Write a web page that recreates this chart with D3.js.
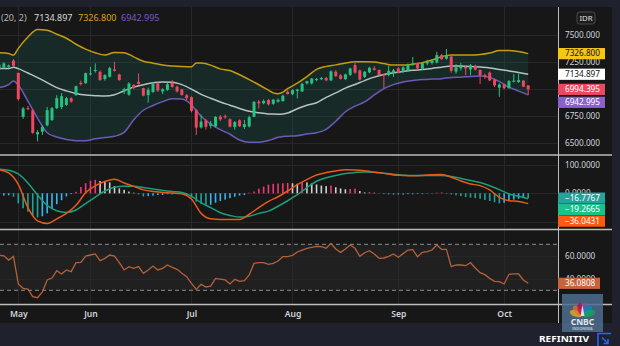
<!DOCTYPE html>
<html><head><meta charset="utf-8">
<script src="https://cdn.jsdelivr.net/npm/d3@7"></script>
<style>
html,body{margin:0;padding:0;background:#171717;overflow:hidden;}
svg{display:block;}
text{font-family:"Noto Sans","DejaVu Sans",sans-serif;}
</style></head><body>
<svg id="chart" width="620" height="346"></svg>
<script>
// ---------- DATA ----------
const dates = [
"2022-04-25","2022-04-26","2022-04-27","2022-04-28",
"2022-05-09","2022-05-10","2022-05-11","2022-05-12","2022-05-13","2022-05-17","2022-05-18","2022-05-19","2022-05-20","2022-05-23","2022-05-24","2022-05-25","2022-05-27","2022-05-30","2022-05-31",
"2022-06-02","2022-06-03","2022-06-06","2022-06-07","2022-06-08","2022-06-09","2022-06-10","2022-06-13","2022-06-14","2022-06-15","2022-06-16","2022-06-17","2022-06-20","2022-06-21","2022-06-22","2022-06-23","2022-06-24","2022-06-27","2022-06-28","2022-06-29","2022-06-30",
"2022-07-01","2022-07-04","2022-07-05","2022-07-06","2022-07-07","2022-07-08","2022-07-11","2022-07-12","2022-07-13","2022-07-14","2022-07-15","2022-07-18","2022-07-19","2022-07-20","2022-07-21","2022-07-22","2022-07-25","2022-07-26","2022-07-27","2022-07-28","2022-07-29",
"2022-08-01","2022-08-02","2022-08-03","2022-08-04","2022-08-05","2022-08-08","2022-08-09","2022-08-10","2022-08-11","2022-08-12","2022-08-15","2022-08-16","2022-08-18","2022-08-19","2022-08-22","2022-08-23","2022-08-24","2022-08-25","2022-08-26","2022-08-29","2022-08-30","2022-08-31",
"2022-09-01","2022-09-02","2022-09-05","2022-09-06","2022-09-07","2022-09-08","2022-09-09","2022-09-12","2022-09-13","2022-09-14","2022-09-15","2022-09-16","2022-09-19","2022-09-20","2022-09-21","2022-09-22","2022-09-23","2022-09-26","2022-09-27","2022-09-28","2022-09-29","2022-09-30",
"2022-10-03","2022-10-04","2022-10-05","2022-10-06","2022-10-07","2022-10-10"];

const open = [7180,7199,7204,7262, 7148,6738,6819,6800,6575,6600,6660,6710,6820,6830,6850,6912,6940,7055,7052,
7133,7165,7158,7090,7111,7180,7133,6975,6945,7035,7065,7006,6940,6970,7050,6975,6990,7055,7018,6993,6940,
6921,6800,6640,6705,6655,6650,6740,6745,6716,6645,6707,6645,6650,6740,6880,6865,6895,6860,6880,6885,6972,
6950,6980,6975,7050,7050,7082,7088,7100,7078,7158,7125,7090,7130,7220,7170,7110,7152,7190,7175,7133,7127,7150,
7190,7158,7170,7225,7240,7185,7235,7240,7245,7313,7280,7300,7160,7190,7205,7180,7215,7175,7125,7150,7085,7010,
7040,7005,7065,7062,7075,7030];
const high = [7235,7245,7225,7275, 7150,6830,6840,6810,6615,6660,6830,6830,6940,6960,6925,6920,7030,7075,7150,
7204,7236,7170,7135,7205,7251,7140,7010,7060,7045,7143,7010,7010,7060,7060,7005,7055,7080,7030,7000,6950,
6930,6810,6760,6720,6700,6745,6755,6760,6725,6700,6715,6710,6750,6885,6895,6900,6905,6905,6910,6945,6985,
6995,7000,7055,7075,7100,7100,7110,7110,7170,7175,7135,7140,7195,7240,7180,7165,7205,7210,7180,7140,7215,7185,
7200,7210,7235,7295,7245,7250,7270,7275,7345,7325,7370,7310,7230,7240,7210,7230,7225,7180,7140,7160,7095,7050,
7045,7080,7135,7140,7080,7035];
const low = [7170,7190,7195,7205, 6890,6720,6800,6580,6510,6570,6650,6700,6810,6810,6840,6870,6935,7030,7045,
7125,7150,7075,7075,7105,7160,7075,6950,6935,6995,7040,6930,6870,6960,6970,6950,6980,7010,6965,6935,6895,
6780,6570,6630,6620,6630,6640,6700,6720,6640,6620,6645,6625,6640,6735,6815,6855,6845,6850,6870,6880,6945,
6940,6910,6970,7040,7040,7070,7080,7070,7070,7110,7085,7080,7120,7140,7075,7100,7145,7170,7120,7005,7115,7110,
7145,7150,7160,7215,7180,7175,7220,7225,7235,7270,7270,7150,7140,7170,7125,7125,7170,7045,7090,7070,7015,6925,
6995,7000,7060,7055,7015,6940];
const close = [7225,7236,7217,7214, 6903,6816,6812,6590,6597,6645,6800,6819,6912,6931,6912,6880,7024,7043,7145,
7143,7174,7080,7127,7192,7167,7080,6995,7049,7007,7045,6936,6990,7044,6984,6995,7042,7016,6975,6943,6912,
6794,6639,6695,6646,6675,6738,6715,6734,6648,6690,6651,6670,6735,6878,6865,6886,6855,6898,6897,6935,6951,
6988,6992,7046,7070,7095,7090,7100,7078,7162,7118,7092,7133,7188,7150,7085,7158,7195,7175,7127,7120,7167,7172,
7150,7198,7228,7235,7190,7240,7248,7260,7313,7275,7310,7168,7200,7205,7188,7218,7178,7127,7112,7077,7031,7040,
7005,7072,7075,7080,7020,6994.395];

// Bollinger Bands (20, 2) read at these bar numbers
const bandIdx = [0,2,3,4,6,8,10,12,14,16,18,20,22,24,26,28,30,32,34,36,38,40,41,42,44,46,48,50,52,54,56,57,58,59,60,
62,64,66,68,70,72,74,76,78,80,82,84,86,88,90,92,94,96,98,100,102,104,106,108,110];
const bbUpper = [7335,7327,7313,7376,7481,7551,7545,7507,7470,7414,7369,7335,7313,7337,7336,7296,7256,7238,7220,7211,7206,7204,7240,7239,7220,7185,7169,7130,7085,7037,6987,6962,6954,6968,7001,
7052,7113,7181,7208,7222,7240,7251,7251,7249,7234,7220,7220,7229,7243,7267,7299,7313,7313,7313,7318,7332,7355,7356,7346,7326.8];
const bbMiddle = [7188,7188,7200,7187,7146,7104,7057,7010,6980,6956,6941,6936,6932,6944,6982,7015,7038,7055,7062,7060,7038,6996,6972,6948,6911,6877,6847,6817,6791,6777,6766,6764,6763,6766,6774,
6814,6847,6870,6920,6961,7006,7040,7076,7108,7132,7148,7161,7171,7178,7189,7201,7211,7211,7208,7202,7194,7178,7166,7152,7134.897];
const bbLower = [7010,7038,7071,7034,6884,6726,6591,6551,6528,6517,6516,6535,6546,6558,6594,6711,6800,6844,6880,6908,6905,6850,6796,6744,6670,6619,6577,6523,6502,6502,6518,6533,6549,6555,6558,
6563,6579,6591,6623,6698,6786,6838,6877,6942,7001,7038,7062,7076,7085,7090,7094,7104,7108,7115,7118,7105,7066,7015,6978,6942.995];

// MACD lines read at every second bar
const macdIdx = [0,2,4,6,8,10,12,14,16,18,20,22,24,26,28,30,32,34,36,38,40,42,44,46,48,50,52,54,56,58,60,62,64,66,68,70,72,74,76,78,80,82,84,86,88,90,92,94,96,98,100,102,104,106,108,110];
const macdLine = [82,71,31,-50,-96,-105,-89,-70,-42,2,26,41,49,36,24,12,6,3,1,-2,-20,-70,-89,-91,-91,-91,-73,-50,-28,-12,8,30,47.8,63.5,72.3,78,82,81.6,78.7,73.5,69.4,64,62.4,61.2,62.4,64.7,65.9,56,43,32.6,26.8,11.7,-14,-25.7,-28.6,-36.0431];
const signalLine = [84,80.5,67.6,36,-6,-42,-61,-66.5,-58,-36,-13,8,21,25,25,20,15,10,6,3,-10.5,-32.6,-50,-67.6,-77,-83,-80,-70,-62,-45,-26,-5,20,42,54,61.8,68.8,72.3,74.6,73.5,70,66.5,63.2,61.8,61.8,61.8,61.8,58.9,51.9,44.3,37.3,26.2,12.8,-2.3,-10.5,-19.2665];
const histogram = [-10,-8,-7,-12,-35,-52,-64,-78,-84,-80,-70,-54,-38,-24,-11,-3,5,22,35,44,47,43,41,38,25,17,12,6,2,-4,
-11,-10,-8,-6,-6,-3,-4,-2,-1,-7,-15,-29,-37,-41,-40,-33,-27,-22,-17,-12,-8,-6,2,6,16,23,30,33,34,35,
36,35,33,40,38,35,31,27,25,27,21,17,14,15,16,8,3,4,2,-1,-3,-4,-5,-4,-5,-3,-4,-2,-3,-1,
-1,2,3,1,-4,-7,-10,-13,-15,-17,-19,-23,-27,-31,-35,-33,-25,-22,-19,-15,-16.7767];

const rsi = [60.5,60,56.3,59.5,35.5,31.7,31.1,24.5,23.6,28.5,39,40.7,47.1,44.2,47.7,46.2,54,54.3,59.8,60.7,
61.6,55.8,57.8,60.7,59.8,54,47.7,50.6,49.1,50.6,44.8,47.7,51.1,47.7,49.1,52,50,48.2,44.8,41.9,
36.1,30.8,35.2,32.9,33.7,40.4,39.8,39,35.5,39.5,37.8,38.4,43.3,53.4,54,54,52.6,53.4,55.5,59.2,
59.2,60.4,63.3,65,66.5,67.4,68.2,67.9,66.5,70.8,65.9,63,65.9,69.4,66.5,59.5,62.7,64.5,61.6,57.8,
58.1,59.5,61.6,58.7,61.9,65,65.3,59.2,63,63.6,65,69.4,65.6,65.6,50.6,52,52,51.4,54,49.4,
45.3,43.6,40.4,37.8,37.5,35.5,43.9,44.2,44.2,39,36.0808];

const monthTicks = ["2022-05-09","2022-06-02","2022-07-01","2022-08-01","2022-09-01","2022-10-03"];
const monthLabels = ["May","Jun","Jul","Aug","Sep","Oct"];
const priceTicks = [7500,7250,7000,6750,6500];
const macdTicks = [100,0,-100];
const rsiTicks = [60,40];
const rsiBands = [70,30];
const bbLegend = "(20, 2)";
const currency = "IDR";

// ---------- DRAW ----------
const W = 620, H = 346, PR = 558;
const svg = d3.select("#chart");
const x = d3.scalePoint().domain(dates).range([-0.94, 528.2]);
const yP = d3.scaleLinear().domain([6500, 7500]).range([142.5, 35]);
const yM = d3.scaleLinear().domain([-100, 100]).range([222, 164.6]);
const yR = d3.scaleLinear().domain([30, 70]).range([290.3, 244.3]);
const panels = {main:[7,155], macd:[155,229.5], rsi:[229.5,304.5]};
const xi = i => x(dates[i]);

svg.append("rect").attr("width",W).attr("height",H).attr("fill","#171717");
svg.append("rect").attr("x",0).attr("y",0).attr("width",W).attr("height",7).attr("fill","#1f222c");
svg.append("rect").attr("x",0).attr("y",323).attr("width",W).attr("height",23).attr("fill","#1f222c");
svg.append("rect").attr("x",612).attr("y",0).attr("width",8).attr("height",H).attr("fill","#1f222c");

const defs = svg.append("defs");
Object.entries(panels).forEach(([k,[a,b]]) => {
  defs.append("clipPath").attr("id","clip-"+k).append("rect").attr("x",0).attr("y",a).attr("width",PR).attr("height",b-a);
});

// RSI band background
svg.append("rect").attr("x",0).attr("width",PR).attr("y",yR(rsiBands[0])).attr("height",yR(rsiBands[1])-yR(rsiBands[0])).attr("fill","#202020");

// grid
const grid = svg.append("g").attr("stroke","#272727").attr("stroke-width",1);
grid.selectAll(".v").data(monthTicks).join("line").attr("x1",d=>Math.round(x(d))+0.5).attr("x2",d=>Math.round(x(d))+0.5).attr("y1",7).attr("y2",304.5);
grid.selectAll(".hp").data(priceTicks).join("line").attr("x1",0).attr("x2",PR).attr("y1",d=>Math.round(yP(d))+0.5).attr("y2",d=>Math.round(yP(d))+0.5);
grid.selectAll(".hm").data(macdTicks).join("line").attr("x1",0).attr("x2",PR).attr("y1",d=>Math.round(yM(d))+0.5).attr("y2",d=>Math.round(yM(d))+0.5);
grid.selectAll(".hr").data(rsiTicks).join("line").attr("x1",0).attr("x2",PR).attr("y1",d=>Math.round(yR(d))+0.5).attr("y2",d=>Math.round(yR(d))+0.5);

// Bollinger
const mainG = svg.append("g").attr("clip-path","url(#clip-main)");
const bands = bandIdx.map((b,k)=>({i:b,u:bbUpper[k],m:bbMiddle[k],l:bbLower[k]}));
mainG.append("path").datum(bands).attr("fill","rgba(24,120,110,0.2)")
  .attr("d", d3.area().x(d=>xi(d.i)).y0(d=>yP(d.l)).y1(d=>yP(d.u)).curve(d3.curveMonotoneX));
[["u","#c49d0e"],["m","#b7c3c1"],["l","#6c5bb6"]].forEach(([k,c])=>{
  mainG.append("path").datum(bands).attr("fill","none").attr("stroke",c).attr("stroke-width",1.5)
    .attr("d", d3.line().x(d=>xi(d.i)).y(d=>yP(d[k])).curve(d3.curveMonotoneX));
});

// candles
const UP="#26c281", DN="#ee4760";
const candles = dates.map((d,i)=>({d,o:open[i],h:high[i],l:low[i],c:close[i]}));
const cg = mainG.selectAll(".c").data(candles).join("g");
cg.append("line").attr("x1",d=>x(d.d)).attr("x2",d=>x(d.d)).attr("y1",d=>yP(d.h)).attr("y2",d=>yP(d.l))
  .attr("stroke",d=>d.c>=d.o?UP:DN).attr("stroke-width",1);
cg.append("rect").attr("x",d=>x(d.d)-1.5).attr("width",3)
  .attr("y",d=>yP(Math.max(d.o,d.c))).attr("height",d=>Math.max(1,Math.abs(yP(d.o)-yP(d.c))))
  .attr("fill",d=>d.c>=d.o?UP:DN);

// MACD
const macdG = svg.append("g").attr("clip-path","url(#clip-macd)");
const histColor = (h,p) => h>=0 ? (h>p ? "#ec3a74" : "#cfcfcf") : (h<p ? "#20a398" : "#35b5f2");
macdG.selectAll(".h").data(histogram).join("rect")
  .attr("x",(h,i)=>xi(i)-0.8).attr("width",1.6)
  .attr("y",h=>Math.min(yM(0),yM(h))).attr("height",h=>Math.abs(yM(h)-yM(0)))
  .attr("fill",(h,i)=>histColor(h, i>0?histogram[i-1]:h+1));
const mdat = macdIdx.map((b,k)=>({i:b,m:macdLine[k],s:signalLine[k]}));
macdG.append("path").datum(mdat).attr("fill","none").attr("stroke","#1a9e7c").attr("stroke-width",1.5)
  .attr("d", d3.line().x(d=>xi(d.i)).y(d=>yM(d.s)).curve(d3.curveMonotoneX));
macdG.append("path").datum(mdat).attr("fill","none").attr("stroke","#e85a16").attr("stroke-width",1.5)
  .attr("d", d3.line().x(d=>xi(d.i)).y(d=>yM(d.m)).curve(d3.curveMonotoneX));

// RSI
const rsiG = svg.append("g").attr("clip-path","url(#clip-rsi)");
rsiG.selectAll(".dl").data(rsiBands).join("line").attr("x1",0).attr("x2",PR)
  .attr("y1",d=>yR(d)).attr("y2",d=>yR(d)).attr("stroke","#8c8c8c").attr("stroke-dasharray","4,3").attr("stroke-width",1);
rsiG.append("path").datum(rsi).attr("fill","none").attr("stroke","#b5603a").attr("stroke-width",1.3)
  .attr("d", d3.line().x((v,i)=>xi(i)).y(v=>yR(v)));

// separators
const sep = svg.append("g").attr("stroke","#bdbdbd");
[155,229.5,304.5].forEach(y=>sep.append("line").attr("x1",0).attr("x2",612).attr("y1",y).attr("y2",y).attr("stroke-width",1.5));
sep.append("line").attr("x1",PR+0.5).attr("x2",PR+0.5).attr("y1",7).attr("y2",323).attr("stroke-width",1);

// value labels on axis (computed first so fully covered tick labels can be skipped)
const fmt3 = d3.format(".3f"), fmt4 = d3.format(".4f");
const last = dates.length-1;
function resolve(items, gap){
  items.sort((a,b)=>a.y-b.y);
  for(let k=1;k<items.length;k++){ if(items[k].y < items[k-1].y+gap) items[k].y = items[k-1].y+gap; }
  return items;
}
const priceBoxes = resolve([
  {y:yP(bbUpper[bbUpper.length-1]), t:fmt3(bbUpper[bbUpper.length-1]), bg:"#f5c518", fg:"#131313", w:47},
  {y:yP(bbMiddle[bbMiddle.length-1]), t:fmt3(bbMiddle[bbMiddle.length-1]), bg:"#ffffff", fg:"#131313", w:47},
  {y:yP(close[last]), t:fmt3(close[last]), bg:"#ea4a60", fg:"#ffffff", w:47},
  {y:yP(bbLower[bbLower.length-1]), t:fmt3(bbLower[bbLower.length-1]), bg:"#8a5fd0", fg:"#ffffff", w:47}
], 13);
const macdBoxes = resolve([
  {y:yM(histogram[last]), t:fmt4(histogram[last]), bg:"#23a39a", fg:"#ffffff", w:47},
  {y:yM(signalLine[signalLine.length-1]), t:fmt4(signalLine[signalLine.length-1]), bg:"#1cc08b", fg:"#ffffff", w:47},
  {y:yM(macdLine[macdLine.length-1]), t:fmt4(macdLine[macdLine.length-1]), bg:"#ff5a12", fg:"#ffffff", w:47}
], 11.5);
const rsiBoxes = resolve([{y:yR(rsi[last]), t:fmt4(rsi[last]), bg:"#c6643c", fg:"#ffffff", w:42}], 11);
const allBoxes = priceBoxes.concat(macdBoxes, rsiBoxes);
const covered = yy => allBoxes.some(b => Math.abs(b.y-yy) < 3);

// axes
function styleAxis(g){
  g.select(".domain").remove();
  g.selectAll("text").attr("fill","#d1d4dc").attr("font-size","8.2px").attr("font-family","'Noto Sans',sans-serif");
}
svg.append("g").attr("transform",`translate(${PR},0)`)
  .call(d3.axisRight(yP).tickValues(priceTicks.filter(v=>!covered(yP(v)))).tickFormat(d3.format(".3f")).tickSize(0).tickPadding(7)).call(styleAxis);
svg.append("g").attr("transform",`translate(${PR},0)`)
  .call(d3.axisRight(yM).tickValues(macdTicks.filter(v=>!covered(yM(v)))).tickFormat(d3.format(".4f")).tickSize(0).tickPadding(7)).call(styleAxis);
svg.append("g").attr("transform",`translate(${PR},0)`)
  .call(d3.axisRight(yR).tickValues(rsiTicks.filter(v=>!covered(yR(v)))).tickFormat(d3.format(".4f")).tickSize(0).tickPadding(7)).call(styleAxis);
svg.append("g").attr("transform","translate(0,304.5)")
  .call(d3.axisBottom(x).tickValues(monthTicks).tickFormat((d,i)=>monthLabels[i]).tickSize(0).tickPadding(6))
  .call(g=>{g.select(".domain").remove(); g.selectAll("text").attr("fill","#d1d4dc").attr("font-size","8.6px").attr("font-weight","600").attr("font-family","'Noto Sans',sans-serif");});

allBoxes.forEach(it=>{
  svg.append("rect").attr("x",PR).attr("y",it.y-5.6).attr("width",it.w).attr("height",11.2).attr("fill",it.bg);
  svg.append("text").attr("x",PR+7).attr("y",it.y).attr("dy","0.35em").attr("fill",it.fg)
    .attr("font-size","8.2px").text(it.t);
});

// currency badge
svg.append("rect").attr("x",577).attr("y",12).attr("width",18).attr("height",12).attr("rx",2.5).attr("fill","#1c1c1c").attr("stroke","#4a4a4a");
svg.append("text").attr("x",586).attr("y",18).attr("dy","0.35em").attr("text-anchor","middle").attr("fill","#e0e0e0").attr("font-size","7.8px").text(currency);

// legend
const leg = [
  {t:bbLegend, x:1, c:"#b2b5be"},
  {t:fmt3(bbMiddle[bbMiddle.length-1]), x:34, c:"#d9d9d9"},
  {t:fmt3(bbUpper[bbUpper.length-1]), x:78, c:"#d4a514"},
  {t:fmt3(bbLower[bbLower.length-1]), x:121, c:"#7d58c4"}
];
leg.forEach(l=>svg.append("text").attr("x",l.x).attr("y",18.3).attr("dy","0.35em").attr("fill",l.c).attr("font-size","9px").text(l.t));

// CNBC logo
const logo = svg.append("g");
logo.append("rect").attr("x",562).attr("y",294).attr("width",41).attr("height",38).attr("fill","#4e6d8e").attr("opacity",0.85);
const feathers = ["#fcb711","#f37021","#cc004c","#6460aa","#0089d0","#0db14b"];
feathers.forEach((c,k)=>{
  const a = -70 + k*28;
  logo.append("ellipse").attr("cx",0).attr("cy",-7).attr("rx",3.2).attr("ry",6.5).attr("fill",c).attr("opacity",0.7)
    .attr("transform",`translate(582.5,316) rotate(${a})`);
});
logo.append("path").attr("d","M580.5,316 L582.5,305 L584.5,316 Z").attr("fill","#ffffff").attr("opacity",0.8);
logo.append("text").attr("x",582.5).attr("y",325).attr("text-anchor","middle").attr("fill","#ffffff").attr("opacity",0.85)
  .attr("font-size","8.5px").attr("font-weight","bold").text("CNBC");
logo.append("text").attr("x",582.5).attr("y",330).attr("text-anchor","middle").attr("fill","#ffffff").attr("opacity",0.6)
  .attr("font-size","3.6px").attr("font-weight","bold").text("INDONESIA");

// footer
svg.append("text").attr("x",539).attr("y",338.5).attr("dy","0.35em").attr("fill","#ffffff").attr("font-size","9.5px")
  .attr("font-weight","bold").attr("textLength",50).attr("lengthAdjust","spacingAndGlyphs").text("REFINITIV");
const icon = svg.append("g").attr("stroke","#2962ff").attr("stroke-width",1.6).attr("fill","none");
icon.append("path").attr("d","M598,346 L598,333.5 L611,333.5");
icon.append("path").attr("d","M602,337.5 L608,343.5 M608,339 L608,343.5 L603.5,343.5");
</script>
</body></html>
